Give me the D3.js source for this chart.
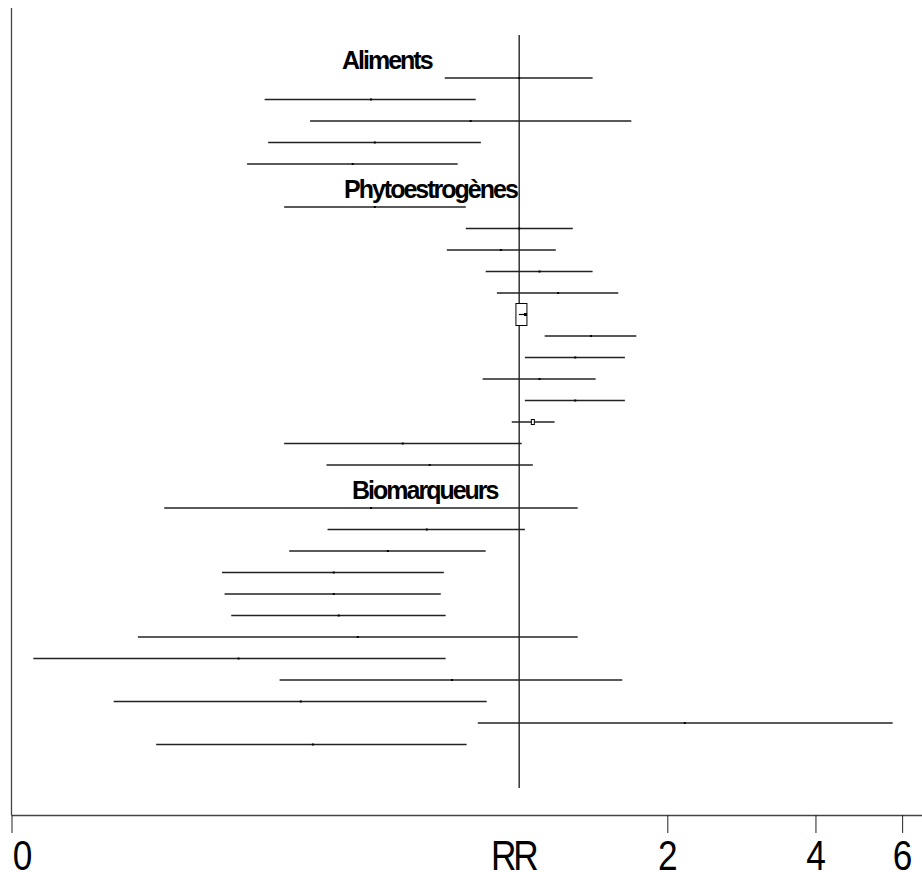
<!DOCTYPE html>
<html>
<head>
<meta charset="utf-8">
<script src="https://cdn.jsdelivr.net/npm/d3@7"></script>
<style>
  body { margin: 0; background: #fff; }
  svg { display: block; }
</style>
</head>
<body>
<div id="chart"></div>
<script>
// groups, in display order, with the number of estimates under each heading
var groups = ["Aliments", "Phytoestrogènes", "Biomarqueurs"];
var groupSizes = [5, 13, 12];

// relative risks (point estimate, lower and upper bound), top to bottom
var rrEst = [1.00, 0.50, 0.797, 0.509, 0.459,
  0.509, 1.00, 0.918, 1.10, 1.20, 1.03, 1.40, 1.30, 1.10, 1.30, 1.066, 0.580, 0.658,
  0.50, 0.649, 0.541, 0.420, 0.420, 0.430, 0.470, 0.269, 0.730, 0.360, 2.17, 0.381];
var rrLow = [0.706, 0.304, 0.376, 0.309, 0.280,
  0.333, 0.779, 0.713, 0.855, 0.901, 0.985, 1.127, 1.027, 0.843, 1.027, 0.966, 0.333, 0.406,
  0.190, 0.408, 0.341, 0.249, 0.252, 0.260, 0.168, 0.103, 0.326, 0.150, 0.824, 0.183];
var rrHigh = [1.41, 0.816, 1.69, 0.836, 0.750,
  0.779, 1.285, 1.187, 1.41, 1.59, 1.037, 1.73, 1.64, 1.43, 1.64, 1.18, 1.012, 1.066,
  1.315, 1.027, 0.855, 0.703, 0.693, 0.709, 1.315, 0.709, 1.62, 0.859, 5.74, 0.782];
// "s" single study, "p" pooled estimate, "b" boxed summary
var rrKind = ["s", "s", "s", "s", "s",
  "s", "s", "s", "s", "s", "b", "s", "s", "s", "s", "p", "s", "s",
  "s", "s", "s", "s", "s", "s", "s", "s", "s", "s", "s", "s"];

var tickValues = [0.093, 2, 4, 6];
var tickLabels = ["0", "2", "4", "6"];

var width = 922, height = 872;
var axisY = 815;
var axisFont = "'Liberation Sans', Arial, sans-serif";
var squeeze = "scale(0.84,1)";

var svg = d3.select("#chart").append("svg")
  .attr("width", width).attr("height", height);

var x = d3.scaleLog().domain([0.093, 6.6]).range([11.5, 922.5]);

// row layout: a heading row, then its estimates
var rows = [], heads = [], r = 0, k = 0;
groups.forEach(function(g, gi) {
  heads.push({ name: g, row: r });
  r++;
  for (var j = 0; j < groupSizes[gi]; j++) {
    rows.push({ est: rrEst[k], lo: rrLow[k], hi: rrHigh[k], kind: rrKind[k], row: r });
    k++; r++;
  }
});
var y = d3.scaleLinear().domain([0, r - 1]).range([56.5, 744.5]);

// left frame line
svg.append("line")
  .attr("x1", 11.5).attr("x2", 11.5).attr("y1", 8).attr("y2", axisY)
  .attr("stroke", "#444").attr("stroke-width", 1.3);

// RR = 1 reference line
svg.append("line")
  .attr("x1", x(1)).attr("x2", x(1)).attr("y1", 35).attr("y2", 788)
  .attr("stroke", "#000").attr("stroke-width", 1.2);

// confidence intervals
var g = svg.selectAll(".ci").data(rows).enter().append("g").attr("class", "ci");

g.filter(function(d) { return d.kind !== "b"; }).append("line")
  .attr("x1", function(d) { return x(d.lo); })
  .attr("x2", function(d) { return x(d.hi); })
  .attr("y1", function(d) { return y(d.row); })
  .attr("y2", function(d) { return y(d.row); })
  .attr("stroke", "#222").attr("stroke-width", 1.3);

g.filter(function(d) { return d.kind === "s"; }).append("rect")
  .attr("x", function(d) { return x(d.est) - 1; })
  .attr("y", function(d) { return y(d.row) - 1; })
  .attr("width", 2).attr("height", 2).attr("fill", "#000");

g.filter(function(d) { return d.kind === "p"; }).append("rect")
  .attr("x", function(d) { return x(d.est) - 1.5; })
  .attr("y", function(d) { return y(d.row) - 2.5; })
  .attr("width", 3).attr("height", 5)
  .attr("fill", "#fff").attr("stroke", "#000").attr("stroke-width", 1);

var box = g.filter(function(d) { return d.kind === "b"; });
box.append("rect")
  .attr("x", function(d) { return x(d.lo); })
  .attr("y", function(d) { return y(d.row) - 11; })
  .attr("width", function(d) { return x(d.hi) - x(d.lo); })
  .attr("height", 22)
  .attr("fill", "#fff").attr("stroke", "#000").attr("stroke-width", 1);
box.append("line")
  .attr("x1", function(d) { return x(d.lo) + 3; })
  .attr("x2", function(d) { return x(d.est); })
  .attr("y1", function(d) { return y(d.row); })
  .attr("y2", function(d) { return y(d.row); })
  .attr("stroke", "#000").attr("stroke-width", 1.2);
box.append("rect")
  .attr("x", function(d) { return x(d.est) - 1.5; })
  .attr("y", function(d) { return y(d.row) - 1.5; })
  .attr("width", 3).attr("height", 3).attr("fill", "#000");

// group headings
var headX = [342, 344, 352];
svg.selectAll(".head").data(heads).enter().append("text")
  .attr("class", "head")
  .attr("x", function(d, i) { return headX[i]; })
  .attr("y", function(d) { return y(d.row) + 12; })
  .attr("font-family", "Liberation Sans, Arial, sans-serif")
  .attr("font-weight", "bold")
  .attr("font-size", 25)
  .attr("letter-spacing", -2)
  .text(function(d) { return d.name; });

// bottom axis
var axis = d3.axisBottom(x)
  .tickValues(tickValues)
  .tickSize(18)
  .tickFormat(function(d, i) { return tickLabels[i]; });

var ax = svg.append("g").attr("transform", "translate(0," + axisY + ")").call(axis);
ax.select(".domain").attr("stroke", "#444").attr("stroke-width", 1.3)
  .attr("d", "M11.5,0.5H922");
ax.selectAll(".tick line").attr("stroke", "#222").attr("stroke-width", 1);
ax.selectAll(".tick text")
  .attr("font-family", axisFont)
  .attr("font-size", 42)
  .attr("fill", "#000")
  .attr("dy", 0)
  .attr("y", 55)
  .attr("transform", squeeze)
  .attr("text-anchor", function(d, i) { return i === 0 ? "start" : "middle"; })
  .attr("dx", function(d, i) { return i === 0 ? 1 : 0; });

ax.append("g")
  .attr("transform", "translate(" + (x(1) - 6) + ",0)")
  .append("text")
  .attr("y", 55)
  .attr("transform", squeeze)
  .attr("font-family", axisFont)
  .attr("font-size", 42)
  .attr("letter-spacing", -4)
  .attr("text-anchor", "middle")
  .attr("fill", "#000")
  .text("RR");
</script>
</body>
</html>
